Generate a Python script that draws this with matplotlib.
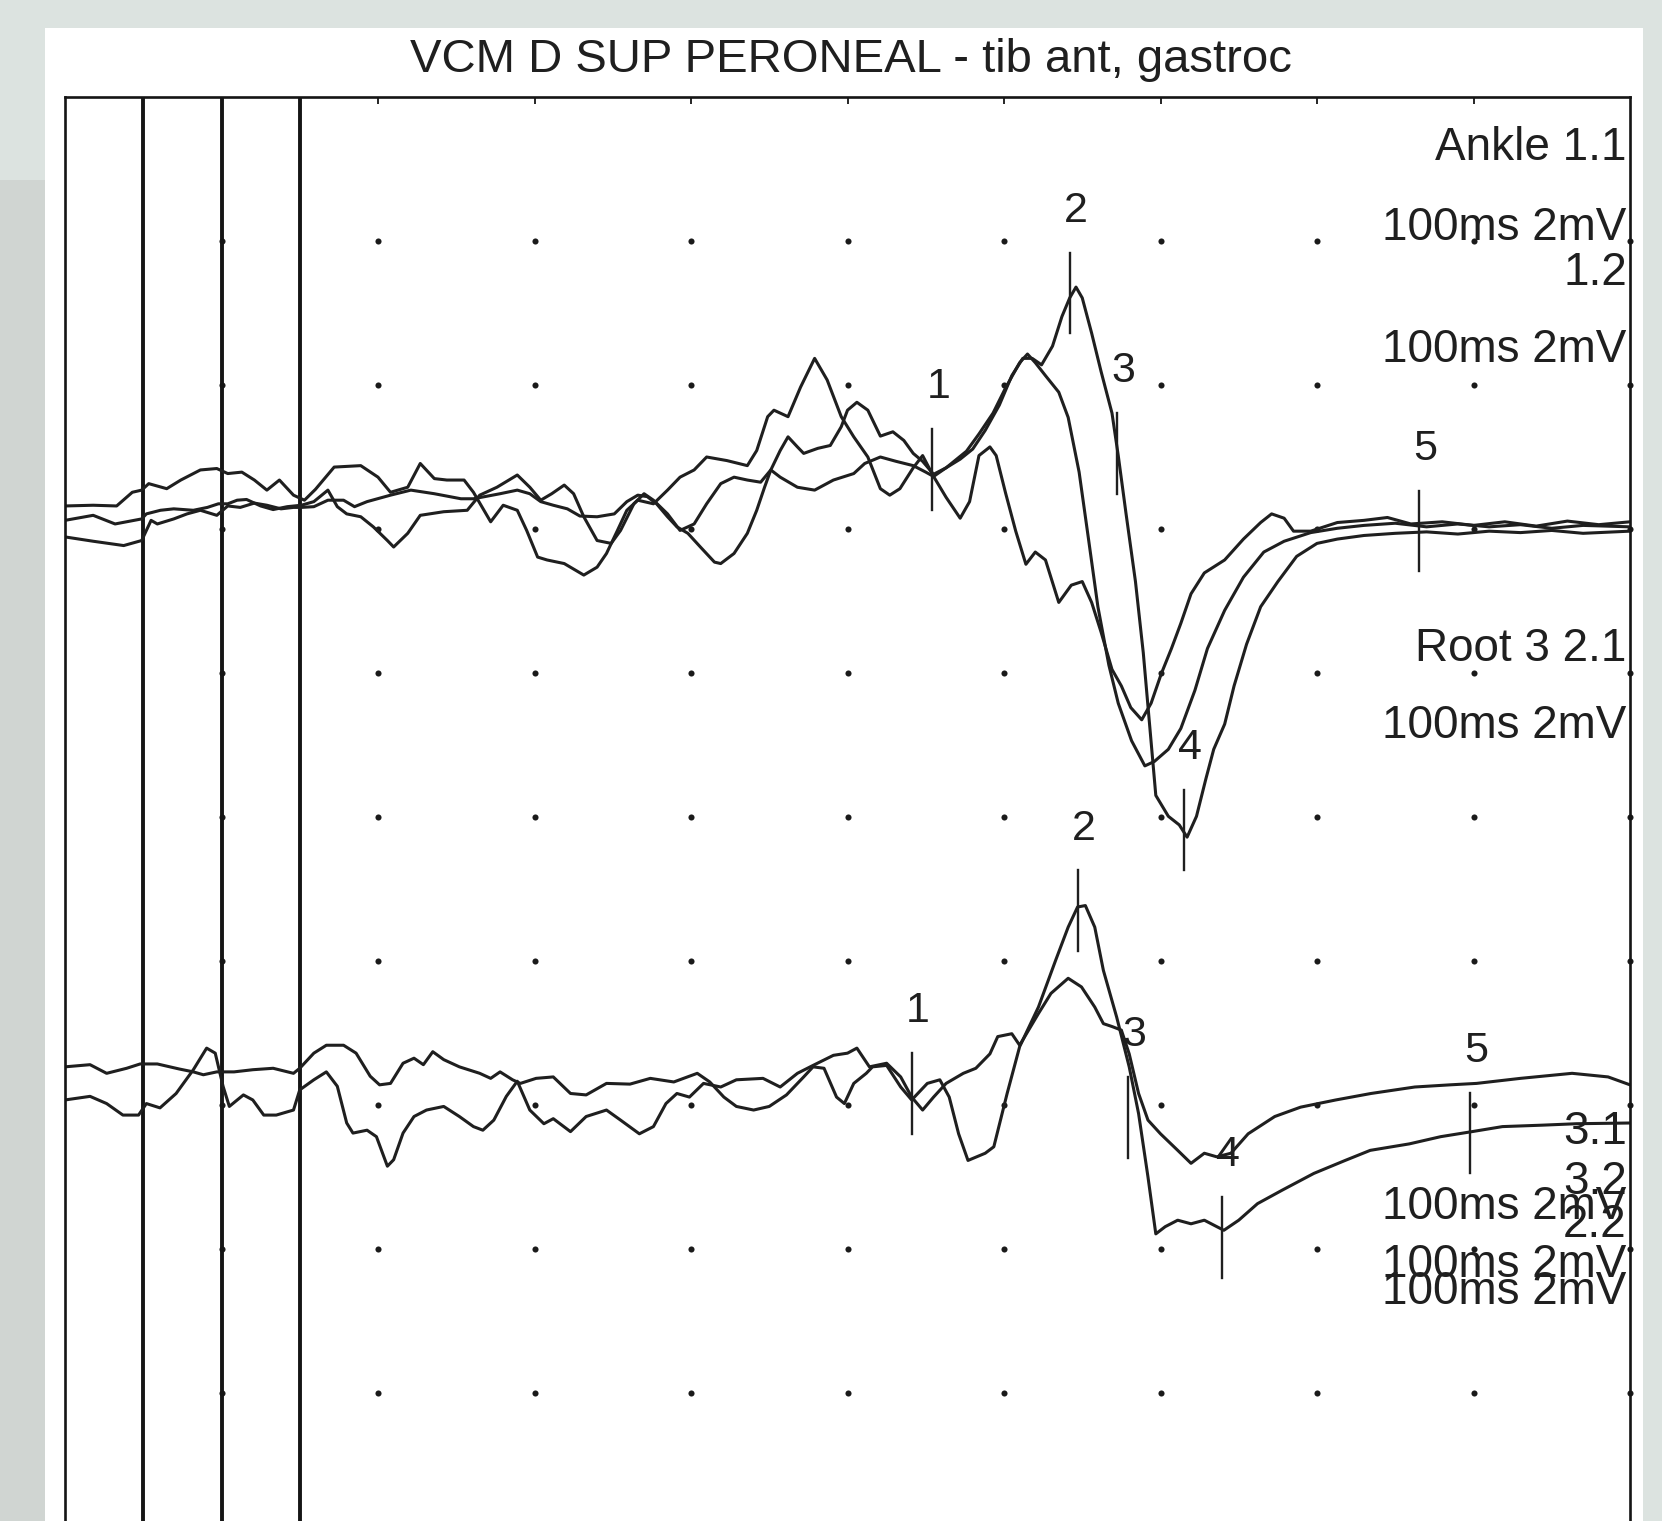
import matplotlib.pyplot as plt
import numpy as np
from matplotlib.patches import Rectangle

plt.rcParams['font.family'] = ['Liberation Sans', 'DejaVu Sans']

# sweep: 100 ms over 10 divisions, 2 mV per division (display offsets included)
# upper group (Ankle 1.1 / 1.2 / Root 3 2.1) - (ms, mV)
trace_a = [(0.0, -6.11), (1.8, -6.17), (3.75, -6.23), (4.9, -6.16), (5.5, -5.88), (5.9, -5.93), (6.95, -5.86),
           (7.8, -5.79), (8.65, -5.74), (9.7, -5.81), (10.4, -5.68), (11.2, -5.7), (12.1, -5.64), (12.9, -5.67),
           (13.8, -5.72), (14.6, -5.7), (15.1, -5.7), (15.9, -5.69), (16.8, -5.6), (17.8, -5.6), (18.5, -5.69),
           (19.3, -5.62), (20.8, -5.53), (22.1, -5.46), (23.6, -5.51), (25.3, -5.58), (26.1, -5.58), (27.8, -5.51),
           (28.9, -5.46), (29.7, -5.51), (30.4, -5.62), (31.2, -5.67), (32.1, -5.72), (32.9, -5.82), (34.0, -5.83),
           (35.1, -5.79), (35.9, -5.62), (36.6, -5.53), (37.2, -5.55), (37.8, -5.65), (38.5, -5.83), (39.1, -5.97),
           (39.8, -6.06), (40.6, -6.25), (41.5, -6.46), (41.9, -6.48), (42.75, -6.34), (43.6, -6.06), (44.2, -5.74),
           (44.7, -5.42), (45.1, -5.18), (45.7, -4.91), (46.2, -4.72), (46.8, -4.86), (47.2, -4.95), (48.1, -4.88),
           (48.9, -4.84), (49.6, -4.58), (50.0, -4.35), (50.6, -4.24), (51.3, -4.35), (52.1, -4.71), (52.9, -4.65),
           (53.6, -4.77), (54.2, -4.95), (54.8, -5.06), (55.5, -5.24), (56.3, -5.15), (57.2, -5.03), (58.0, -4.89),
           (58.8, -4.63), (59.7, -4.28), (60.5, -3.87), (61.2, -3.63), (61.8, -3.63), (62.4, -3.72), (63.1, -3.46),
           (63.7, -3.05), (64.2, -2.79), (64.6, -2.64), (65.0, -2.79), (65.6, -3.28), (66.2, -3.81), (66.9, -4.39),
           (67.3, -4.98), (67.8, -5.79), (68.4, -6.73), (68.9, -7.72), (69.3, -8.71), (69.7, -9.7), (70.5, -9.99),
           (71.2, -10.11), (71.7, -10.28), (72.3, -9.99), (72.9, -9.47), (73.4, -9.06), (74.1, -8.71), (74.7, -8.18),
           (75.5, -7.6), (76.4, -7.08), (77.5, -6.73), (78.7, -6.38), (80.0, -6.2), (81.3, -6.14), (83.0, -6.09),
           (85.0, -6.06), (87.0, -6.04), (89.0, -6.07), (91.0, -6.03), (93.0, -6.05), (95.0, -6.02), (97.0, -6.06),
           (100.0, -6.03)]

trace_b = [(0.0, -5.68), (1.8, -5.67), (3.3, -5.68), (4.3, -5.49), (4.9, -5.46), (5.35, -5.37), (6.5, -5.44),
           (7.4, -5.32), (8.65, -5.18), (9.7, -5.16), (10.4, -5.23), (11.3, -5.21), (12.1, -5.32), (12.9, -5.46),
           (13.7, -5.32), (14.6, -5.53), (15.3, -5.6), (16.0, -5.45), (17.2, -5.14), (18.9, -5.12), (20.0, -5.28),
           (20.8, -5.49), (21.9, -5.42), (22.7, -5.09), (23.6, -5.3), (24.4, -5.32), (25.5, -5.32), (26.1, -5.49),
           (27.2, -5.9), (28.0, -5.67), (28.9, -5.74), (29.5, -6.02), (30.2, -6.39), (30.8, -6.43), (31.9, -6.48),
           (33.15, -6.64), (34.0, -6.53), (34.6, -6.34), (35.3, -6.02), (35.9, -5.74), (36.6, -5.6), (37.6, -5.65),
           (38.5, -5.46), (39.3, -5.28), (40.2, -5.18), (41.0, -5.0), (42.3, -5.05), (43.6, -5.12), (44.2, -4.91),
           (44.9, -4.44), (45.3, -4.35), (46.2, -4.44), (47.0, -4.03), (47.9, -3.63), (48.7, -3.93), (49.6, -4.44),
           (50.4, -4.72), (51.3, -5.0), (52.1, -5.44), (52.7, -5.53), (53.35, -5.44), (54.2, -5.15), (54.8, -4.98),
           (55.5, -5.27), (56.3, -5.56), (57.2, -5.85), (57.8, -5.62), (58.4, -4.98), (59.1, -4.86), (59.5, -4.98),
           (60.1, -5.5), (60.75, -6.03), (61.4, -6.49), (62.0, -6.32), (62.65, -6.43), (63.5, -7.02), (64.3, -6.78),
           (65.0, -6.73), (65.6, -7.02), (66.2, -7.43), (66.9, -7.95), (67.5, -8.18), (68.1, -8.48), (68.8, -8.65),
           (69.4, -8.42), (70.05, -8.01), (70.7, -7.66), (71.3, -7.31), (71.95, -6.9), (72.8, -6.61), (74.1, -6.43),
           (75.3, -6.14), (76.4, -5.91), (77.1, -5.79), (77.9, -5.85), (78.5, -6.03), (79.6, -6.03), (81.3, -5.91),
           (83.0, -5.88), (84.5, -5.84), (86.0, -5.93), (88.0, -5.9), (90.0, -5.95), (92.0, -5.9), (94.0, -5.96),
           (96.0, -5.89), (98.0, -5.94), (100.0, -5.9)]

trace_c = [(0.0, -5.88), (1.8, -5.81), (3.2, -5.93), (4.9, -5.86), (5.2, -5.79), (6.1, -5.74), (6.95, -5.72),
           (8.2, -5.74), (9.1, -5.7), (9.8, -5.65), (10.4, -5.65), (11.0, -5.6), (11.6, -5.59), (12.5, -5.68),
           (13.3, -5.73), (14.2, -5.69), (15.1, -5.67), (15.9, -5.62), (16.8, -5.46), (17.4, -5.69), (18.0, -5.79),
           (18.9, -5.83), (19.7, -5.97), (20.6, -6.16), (21.0, -6.25), (21.9, -6.06), (22.7, -5.81), (24.2, -5.76),
           (25.7, -5.74), (26.5, -5.53), (27.6, -5.42), (28.9, -5.25), (29.7, -5.42), (30.4, -5.6), (31.1, -5.51),
           (31.9, -5.39), (32.5, -5.51), (33.15, -5.83), (34.0, -6.16), (34.9, -6.2), (35.5, -6.02), (36.35, -5.65),
           (37.0, -5.51), (37.6, -5.6), (38.5, -5.79), (39.3, -6.02), (40.2, -5.93), (41.0, -5.65), (41.9, -5.37),
           (42.75, -5.28), (43.6, -5.32), (44.45, -5.35), (45.1, -5.18), (45.7, -5.28), (46.8, -5.42), (47.9, -5.46),
           (49.1, -5.32), (50.4, -5.23), (51.1, -5.09), (52.1, -5.0), (53.1, -5.06), (54.2, -5.12), (55.0, -5.21),
           (55.5, -5.27), (56.3, -5.15), (57.6, -4.92), (58.4, -4.68), (59.3, -4.39), (60.1, -4.04), (61.0, -3.69),
           (61.5, -3.57), (62.0, -3.69), (62.65, -3.87), (63.5, -4.1), (64.1, -4.45), (64.8, -5.21), (65.4, -6.14),
           (66.0, -7.08), (66.7, -7.89), (67.3, -8.42), (68.15, -8.94), (69.0, -9.29), (69.6, -9.23), (70.5, -9.06),
           (71.3, -8.77), (72.2, -8.24), (73.0, -7.66), (74.1, -7.13), (75.3, -6.67), (76.6, -6.32), (77.9, -6.17),
           (79.6, -6.05), (81.3, -5.99), (83.0, -5.95), (85.0, -5.92), (87.0, -5.97), (89.0, -5.93), (91.0, -5.97),
           (93.0, -5.94), (95.0, -5.99), (97.0, -5.95), (100.0, -5.97)]

# lower group (3.1 / 3.2 / 2.2)
trace_d = [(0.0, -13.47), (1.6, -13.44), (2.66, -13.56), (3.94, -13.49), (4.8, -13.43), (5.9, -13.43), (7.3, -13.5),
           (8.2, -13.54), (8.84, -13.58), (9.7, -13.54), (10.8, -13.54), (12.0, -13.51), (13.3, -13.49), (14.6, -13.56),
           (15.0, -13.49), (15.9, -13.28), (16.7, -13.17), (17.8, -13.17), (18.6, -13.28), (19.5, -13.6), (20.1, -13.72),
           (20.8, -13.7), (21.6, -13.42), (22.3, -13.35), (22.9, -13.44), (23.5, -13.26), (24.2, -13.37), (25.2, -13.47),
           (26.5, -13.56), (27.2, -13.63), (27.8, -13.54), (28.6, -13.65), (29.1, -13.7), (30.1, -13.63), (31.2, -13.61),
           (32.3, -13.84), (33.3, -13.86), (34.6, -13.7), (36.1, -13.71), (37.4, -13.63), (38.9, -13.68), (40.4, -13.56),
           (41.2, -13.68), (42.1, -13.89), (42.9, -14.02), (44.0, -14.07), (45.0, -14.02), (46.1, -13.86), (47.2, -13.61),
           (47.8, -13.47), (48.5, -13.49), (49.3, -13.89), (49.8, -13.98), (50.4, -13.7), (51.2, -13.56), (51.6, -13.47),
           (52.5, -13.45), (53.4, -13.75), (54.1, -13.93), (55.1, -13.7), (55.9, -13.65), (56.5, -13.89), (57.1, -14.4),
           (57.7, -14.77), (58.8, -14.67), (59.35, -14.58), (60.2, -13.84), (61.0, -13.19), (62.2, -12.64), (63.3, -11.99),
           (64.1, -11.53), (64.7, -11.25), (65.2, -11.23), (65.8, -11.53), (66.35, -12.13), (67.2, -12.78), (68.0, -13.47),
           (68.6, -14.12), (69.2, -15.0), (69.7, -15.79), (70.3, -15.69), (71.1, -15.6), (71.95, -15.65), (72.8, -15.6),
           (73.6, -15.69), (74.05, -15.74), (75.0, -15.6), (76.2, -15.37), (77.8, -15.18), (79.8, -14.95), (81.8, -14.77),
           (83.4, -14.63), (85.9, -14.54), (87.9, -14.44), (89.9, -14.37), (91.85, -14.3), (94.4, -14.28), (96.6, -14.26),
           (100.0, -14.25)]

trace_e = [(0.0, -13.93), (1.6, -13.88), (2.66, -13.98), (3.7, -14.14), (4.7, -14.14), (5.2, -13.98), (6.07, -14.04),
           (7.1, -13.84), (8.2, -13.51), (9.05, -13.21), (9.6, -13.28), (10.1, -13.74), (10.5, -14.02), (11.4, -13.86),
           (12.0, -13.93), (12.7, -14.14), (13.5, -14.14), (14.6, -14.07), (15.0, -13.79), (15.9, -13.65), (16.7, -13.54),
           (17.4, -13.74), (18.0, -14.25), (18.4, -14.39), (19.3, -14.35), (19.9, -14.44), (20.6, -14.85), (21.0, -14.76),
           (21.6, -14.39), (22.3, -14.16), (23.1, -14.07), (24.2, -14.02), (25.2, -14.16), (26.1, -14.3), (26.7, -14.35),
           (27.4, -14.21), (28.2, -13.88), (28.9, -13.67), (29.7, -14.07), (30.6, -14.26), (31.2, -14.19), (32.3, -14.37),
           (33.3, -14.16), (34.6, -14.07), (35.5, -14.21), (36.7, -14.4), (37.6, -14.3), (38.4, -13.98), (39.1, -13.84),
           (39.9, -13.89), (40.8, -13.7), (41.9, -13.75), (42.9, -13.65), (44.6, -13.63), (45.7, -13.75), (46.8, -13.56),
           (47.8, -13.45), (49.1, -13.31), (50.0, -13.28), (50.6, -13.21), (51.4, -13.47), (52.5, -13.42), (53.4, -13.61),
           (54.1, -13.89), (54.8, -14.07), (55.5, -13.89), (56.3, -13.7), (57.4, -13.56), (58.2, -13.49), (59.1, -13.29),
           (59.6, -13.05), (60.5, -13.01), (61.0, -13.17), (62.2, -12.73), (63.0, -12.45), (64.1, -12.24), (64.95, -12.36),
           (65.8, -12.64), (66.35, -12.87), (66.9, -12.91), (67.5, -12.96), (68.0, -13.29), (68.6, -13.84), (69.2, -14.21),
           (70.0, -14.4), (71.1, -14.63), (71.95, -14.81), (72.8, -14.67), (73.6, -14.72), (74.5, -14.67), (75.6, -14.4),
           (77.3, -14.16), (78.95, -14.03), (81.2, -13.93), (83.45, -13.84), (86.25, -13.75), (88.5, -13.72), (90.2, -13.7),
           (93.0, -13.63), (96.3, -13.56), (98.6, -13.61), (100.0, -13.72)]

# cursors 1-5: time (ms) and level (mV) of each mark
upper_cursor_ms = [55.4, 64.2, 67.2, 71.5, 86.5]
upper_cursor_mv = [-5.17, -2.72, -4.95, -10.18, -6.03]
lower_cursor_ms = [54.1, 64.7, 67.9, 73.9, 89.8]
lower_cursor_mv = [-13.84, -11.30, -14.17, -15.84, -14.39]
cursor_names = ['1', '2', '3', '4', '5']

# trace labels on the right edge
side_labels = ['Ankle 1.1', '100ms 2mV', '1.2', '100ms 2mV', 'Root 3 2.1', '100ms 2mV',
               '3.1', '3.2', '100ms 2mV', '2.2', '100ms 2mV', '100ms 2mV']
side_label_mv = [-0.71, -1.82, -2.45, -3.51, -7.67, -8.74,
                 -14.38, -15.07, -15.42, -15.67, -16.22, -16.60]

stim_lines_ms = [5, 10, 15]

W, H = 1662, 1521
ink = '#1f1f1f'

fig = plt.figure(figsize=(W / 100, H / 100), dpi=100)
fig.patch.set_facecolor('#dce3e0')
# left edge of the photo is a bit darker
fig.patches.append(Rectangle((0, 0), 44.5 / W, 1 - 180 / H, transform=fig.transFigure,
                             facecolor='#d0d5d2', edgecolor='none', zorder=-10))
# the paper
fig.patches.append(Rectangle((44.5 / W, 0), (1643 - 44.5) / W, 1 - 28 / H, transform=fig.transFigure,
                             facecolor='white', edgecolor='none', zorder=-10))

fig.text(851 / W, 1 - 60 / H, 'VCM D SUP PERONEAL - tib ant, gastroc',
         ha='center', va='center', fontsize=34, color=ink)

ax = fig.add_axes([65 / W, 1 - 1537 / H, (1630 - 65) / W, 1440 / H])
ax.set_zorder(2)
ax.set_facecolor('white')
ax.set_xlim(0, 100)
ax.set_ylim(-20, 0)
for sp in ax.spines.values():
    sp.set_linewidth(1.9)
    sp.set_color('#151515')

ax.set_xticks(np.arange(20, 100, 10))
ax.set_yticks([])
ax.tick_params(axis='x', top=True, bottom=False, labelbottom=False, direction='in',
               length=5, width=1.3, color='#151515')

# dotted grid
gx, gy = np.meshgrid(np.arange(10, 101, 10), np.arange(-18, -1, 2))
ax.plot(gx.ravel(), gy.ravel(), 'o', ms=4.4, color='#1a1a1a', mec='none', clip_on=False)

for x in stim_lines_ms:
    ax.axvline(x, color='#151515', lw=2.8)

for tr in [trace_a, trace_b, trace_c, trace_d, trace_e]:
    arr = np.array(tr)
    ax.plot(arr[:, 0], arr[:, 1], color=ink, lw=2.2, solid_joinstyle='round')

for ms_list, mv_list in [(upper_cursor_ms, upper_cursor_mv), (lower_cursor_ms, lower_cursor_mv)]:
    for name, t, v in zip(cursor_names, ms_list, mv_list):
        ax.plot([t, t], [v - 0.56, v + 0.56], color=ink, lw=1.7)
        ax.text(t + 0.4, v + 1.14, name, ha='center', va='center', fontsize=31, color=ink)

for txt, v in zip(side_labels, side_label_mv):
    ax.text(99.8, v, txt, ha='right', va='center', fontsize=33, color=ink)

fig.savefig('out.png', dpi=100, facecolor=fig.get_facecolor())
